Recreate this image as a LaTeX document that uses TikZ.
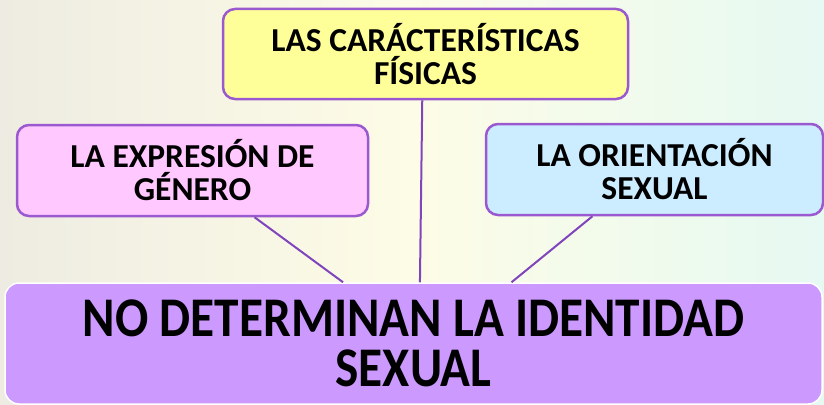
\documentclass[tikz,border=0pt]{standalone}
\usepackage{fontspec}
\setmainfont{Carlito}
\newfontfamily\narrowFont[FakeStretch=0.88]{Carlito}
\definecolor{borderColor}{RGB}{155,89,208}
\definecolor{lineColor}{RGB}{128,68,188}
\definecolor{yellowFill}{RGB}{255,255,153}
\definecolor{pinkFill}{RGB}{255,200,255}
\definecolor{blueFill}{RGB}{204,236,255}
\definecolor{lilacFill}{RGB}{204,153,255}
\definecolor{paperLeft}{RGB}{238,236,226}
\definecolor{paperMid}{RGB}{253,252,230}
\definecolor{paperRight}{RGB}{230,249,242}
\tikzstyle{mapCanvas} = [x = 1pt, y = -1pt]
\tikzstyle{topicStyle} = [draw=borderColor, line width=2.5pt, rounded corners = 12pt, align=center, inner sep=0pt, font=\fontsize{33.5}{33}\selectfont\bfseries]
\tikzstyle{mainStyle} = [fill=lilacFill, draw=white, line width=1.5pt, rounded corners = 14pt, align=center, inner sep=0pt, font=\fontsize{56}{50}\narrowFont\bfseries]
\tikzstyle{linkLine} = [draw=lineColor, line width=2pt]

\begin{document}
\begin{tikzpicture}[mapCanvas]
  \useasboundingbox (0,0) rectangle (824,404);
  \shade [left color=paperLeft, right color=paperRight, middle color=paperMid] (0,0) rectangle (824,404);

  % the three topics
  \node [topicStyle, fill=yellowFill, minimum width=405pt, minimum height=90pt] (fisicas) at (425.5,54) {LAS CARÁCTERÍSTICAS\\FÍSICAS};
  \node [topicStyle, fill=pinkFill, minimum width=351pt, minimum height=91pt] (expresion) at (192.5,170.5) {LA EXPRESIÓN DE\\GÉNERO};
  \node [topicStyle, fill=blueFill, minimum width=337pt, minimum height=91pt] (orientacion) at (654.5,169.5) {LA ORIENTACIÓN\\SEXUAL};

  % conclusion
  \node [mainStyle, minimum width=817pt, minimum height=121pt] (identidad) at (413.5,343.5) {NO DETERMINAN LA IDENTIDAD\\SEXUAL};

  \draw [linkLine] (fisicas.266.8) -- (identidad.84);
  \draw [linkLine] (expresion.-37.4) -- (identidad.139.5);
  \draw [linkLine] (orientacion.217.4) -- (identidad.32.5);
\end{tikzpicture}
\end{document}
